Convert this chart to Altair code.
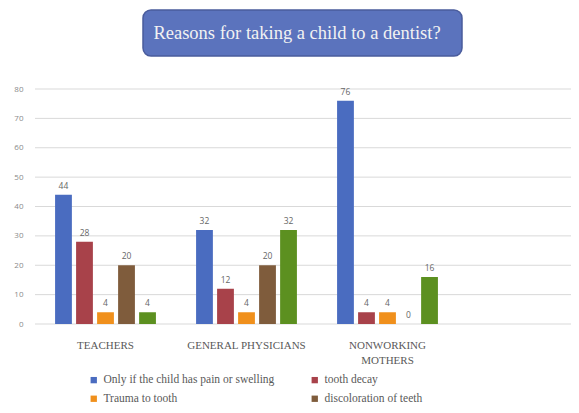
import altair as alt
import pandas as pd

title_text = "Reasons for taking a child to a dentist?"
groups = ["TEACHERS", "GENERAL PHYSICIANS", "NONWORKING MOTHERS"]
reasons = [
    "Only if the child has pain or swelling",
    "tooth decay",
    "Trauma to tooth",
    "discoloration  of teeth",
    "routine check up",
]
teachers = [44, 28, 4, 20, 4]
physicians = [32, 12, 4, 20, 32]
mothers = [76, 4, 4, 0, 16]
colors = ["#4a6cc0", "#a8424a", "#f0901c", "#7f5c3c", "#5c9020"]
y_ticks = [0, 10, 20, 30, 40, 50, 60, 70, 80]

rows = []
for g, vals in zip(groups, [teachers, physicians, mothers]):
    for r, v in zip(reasons, vals):
        rows.append({"group": g, "reason": r, "value": v})
df = pd.DataFrame(rows)
grid_df = pd.DataFrame({"tick": y_ticks})

# legend is filled column by column; reorder so it reads row by row
legend_order = reasons[0::2] + reasons[1::2]
legend_colors = colors[0::2] + colors[1::2]
legend_shown = [r for r in legend_order if r != reasons[4]]  # 5th entry is cut off in the reference

SERIF = "Liberation Serif"
W, H = 536, 235

xscale = alt.Scale(domain=groups, range=[0, 423], paddingInner=0.255, paddingOuter=0.1275)
xoff = alt.XOffset("reason:N", sort=reasons,
                   scale=alt.Scale(domain=reasons, paddingInner=0.2, paddingOuter=0.1))
x_enc = alt.X(
    "group:N", scale=xscale, sort=groups,
    axis=alt.Axis(
        title=None, labelAngle=0, ticks=False, domain=False, grid=False,
        labelFont=SERIF, labelFontSize=11, labelColor="#595959", labelPadding=15,
        labelLineHeight=15,
        labelExpr="datum.label == 'NONWORKING MOTHERS' ? ['NONWORKING', 'MOTHERS'] : datum.label",
    ),
)
yscale = alt.Scale(domain=[0, 80])
y_axis = alt.Axis(
    title=None, values=y_ticks, ticks=False, domain=False, grid=False,
    labelFont="Open Sans", labelFontSize=8, labelColor="#8a8a8a", labelPadding=12,
)
y_enc = alt.Y("value:Q", scale=yscale, axis=y_axis)

grid = alt.Chart(grid_df).mark_rule(color="#d9d9d9", strokeWidth=1).encode(
    y=alt.Y("tick:Q", scale=yscale, axis=y_axis),
    x=alt.value(0), x2=alt.value(W),
)

bars = alt.Chart(df).mark_bar().encode(
    x=x_enc,
    xOffset=xoff,
    y=y_enc,
    color=alt.Color(
        "reason:N",
        scale=alt.Scale(domain=legend_order, range=legend_colors),
        legend=alt.Legend(
            title=None, orient="none", legendX=53, legendY=285, columns=2,
            columnPadding=34, rowPadding=6, symbolType="square", symbolSize=40,
            symbolStrokeWidth=0, labelFont=SERIF, labelFontSize=11.5,
            labelColor="#595959", labelOffset=4, labelLimit=400,
            values=legend_shown,
        ),
    ),
)

labels = alt.Chart(df).mark_text(
    baseline="bottom", dy=-4, font="Open Sans", fontSize=8.5, color="#666666"
).encode(x=x_enc, xOffset=xoff, y=y_enc, text="value:Q")

tdf = pd.DataFrame({"t": [title_text]})
box = alt.Chart(tdf).mark_rect(
    cornerRadius=8, fill="#5b73bd", stroke="#4a5c9c", strokeWidth=1.5
).encode(x=alt.value(108), x2=alt.value(427), y=alt.value(-79), y2=alt.value(-33))
ttext = alt.Chart(tdf).mark_text(
    font=SERIF, fontSize=18.5, color="#f2f2f2", baseline="middle", align="center"
).encode(x=alt.value(262), y=alt.value(-56), text="t:N")

chart = alt.layer(grid, bars, labels, box, ttext).properties(
    width=W, height=H,
    autosize=alt.AutoSizeParams(type="none"),
    padding={"left": 27, "top": 81, "right": 0, "bottom": 81},
).configure_view(stroke=None)

chart.save("out.html", embed_options={"renderer": "svg", "actions": False})
